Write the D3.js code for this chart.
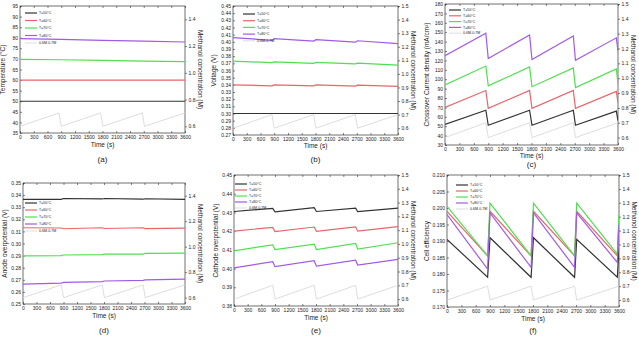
<!DOCTYPE html>
<html><head><meta charset="utf-8">
<script src="https://cdn.jsdelivr.net/npm/d3@7"></script>
<style>
  body { margin: 0; background: #fff; }
  text { font-family: "Liberation Sans", Arial, sans-serif; fill: #222; }
</style>
</head><body>
<svg id="chart" width="639" height="344"></svg>
<script>
// time grids (s)
const tFlat = [0, 900, 1800, 2700, 3600]
const tSaw = [0, 850, 900, 1760, 1810, 2670, 2715, 3600]
const tSawEnd = [0, 850, 900, 1760, 1810, 2670, 2715, 3565, 3600]
const xTicks = d3.range(0, 3601, 300)

// methanol feed concentration (M), right axis
const concM = [0.6, 0.7, 0.6, 0.7, 0.6, 0.7, 0.6, 0.7]

const seriesNames = ["T=50°C", "T=60°C", "T=70°C", "T=80°C", "0.6M-0.7M"]
const colours = ["#333333", "#e8666a", "#4ee04e", "#a259e6", "#d4d4d4"]

// (a) temperature
const tempA = [
  [50, 50, 50, 50, 50],
  [60, 60, 60, 60, 60],
  [69.8, 69.6, 69.3, 69.0, 68.7],
  [79.6, 79.2, 78.8, 78.4, 78.0]
]
// (b) voltage
const voltB = [
  [0.300, 0.300, 0.300, 0.300, 0.300, 0.300, 0.300, 0.300],
  [0.3400, 0.3385, 0.3400, 0.3385, 0.3398, 0.3382, 0.3395, 0.3378],
  [0.3730, 0.3710, 0.3720, 0.3700, 0.3712, 0.3692, 0.3702, 0.3675],
  [0.4060, 0.4020, 0.4045, 0.4010, 0.4030, 0.3995, 0.4015, 0.3975]
]
// (c) crossover current density
const crossC = [
  [52, 67, 51, 67, 51, 67, 51, 66, 56],
  [70, 88, 69, 88, 69, 88, 69, 87, 75],
  [94, 114, 93, 113, 92, 112, 91, 111, 95],
  [125, 149, 122, 147, 121, 146, 120, 144, 130]
]
// (d) anode overpotential
const anodeD = [
  [0.3365, 0.3365, 0.3372, 0.3368, 0.3372, 0.3366, 0.3370, 0.3364],
  [0.3130, 0.3128, 0.3122, 0.3130, 0.3124, 0.3130, 0.3123, 0.3127],
  [0.2898, 0.2900, 0.2905, 0.2908, 0.2912, 0.2913, 0.2918, 0.2920],
  [0.2665, 0.2672, 0.2678, 0.2685, 0.2690, 0.2696, 0.2700, 0.2705]
]
// (e) cathode overpotential
const cathodeE = [
  [0.4305, 0.4322, 0.4303, 0.4325, 0.4305, 0.4323, 0.4304, 0.4323],
  [0.4200, 0.4220, 0.4198, 0.4222, 0.4199, 0.4223, 0.4200, 0.4224],
  [0.4095, 0.4127, 0.4102, 0.4131, 0.4102, 0.4135, 0.4104, 0.4138],
  [0.4004, 0.4037, 0.4010, 0.4042, 0.4013, 0.4045, 0.4019, 0.4049]
]
// (f) cell efficiency
const effF = [
  [0.1905, 0.1790, 0.1910, 0.1790, 0.1910, 0.1790, 0.1905, 0.1790, 0.1880],
  [0.1990, 0.1855, 0.1990, 0.1855, 0.1990, 0.1855, 0.1990, 0.1855, 0.1960],
  [0.2005, 0.1855, 0.2015, 0.1855, 0.2015, 0.1855, 0.2015, 0.1860, 0.1980],
  [0.1980, 0.1815, 0.1985, 0.1820, 0.1985, 0.1820, 0.1985, 0.1835, 0.1950]
]

const svg = d3.select("#chart")

const panels = [
  { tag: "(a)", l: 20, r: 185, t: 6, b: 133, yDom: [35, 95], yTicks: d3.range(35, 96, 5),
    fmt: d3.format("d"), yTitle: "Temperature (°C)", times: tFlat, data: tempA,
    r2Ticks: [0.6, 0.8, 1.0, 1.2, 1.4], legend: [5, 7, 7.5], tagY: 162, xtY: 14, yOff: 15 },
  { tag: "(b)", l: 233, r: 398, t: 6, b: 135, yDom: [0.27, 0.45], yTicks: d3.range(0.27, 0.4501, 0.01),
    fmt: d3.format(".2f"), yTitle: "Voltage (V)", times: tSaw, data: voltB,
    r2Ticks: d3.range(0.6, 1.501, 0.1), legend: [10, 8, 6.7], tagY: 162, xtY: 13, yOff: 17 },
  { tag: "(c)", l: 445, r: 618, t: 4, b: 145, yDom: [30, 180], yTicks: d3.range(30, 181, 10),
    fmt: d3.format("d"), yTitle: "Crossover Current density (mA/cm²)", times: tSawEnd, data: crossC,
    r2Ticks: d3.range(0.6, 1.501, 0.1), legend: [4, 6, 5.8], tagY: 167, xtY: 12.5, yOff: 16 },
  { tag: "(d)", l: 23, r: 185, t: 183, b: 304, yDom: [0.25, 0.35], yTicks: d3.range(0.25, 0.3501, 0.01),
    fmt: d3.format(".2f"), yTitle: "Anode overpotential (V)", times: tSaw, data: anodeD,
    r2Ticks: [0.6, 0.8, 1.0, 1.2, 1.4], legend: [2, 20, 7], tagY: 333, xtY: 14, yOff: 16 },
  { tag: "(e)", l: 234, r: 398, t: 175, b: 306, yDom: [0.38, 0.45], yTicks: d3.range(0.38, 0.4501, 0.01),
    fmt: d3.format(".2f"), yTitle: "Cathode overpotential (V)", times: tSaw, data: cathodeE,
    r2Ticks: d3.range(0.6, 1.501, 0.1), legend: [1, 9, 6], tagY: 333, xtY: 14, yOff: 16 },
  { tag: "(f)", l: 447, r: 619, t: 175, b: 307, yDom: [0.17, 0.21], yTicks: d3.range(0.17, 0.2101, 0.005),
    fmt: d3.format(".3f"), yTitle: "Cell efficiency", times: tSawEnd, data: effF,
    r2Ticks: d3.range(0.6, 1.501, 0.1), legend: [9, 10, 6], tagY: 333, xtY: 14, yOff: 18 }
]

function drawPanel(p) {
  const g = svg.append("g").attr("class", "panel")
  const x = d3.scaleLinear().domain([0, 3600]).range([p.l, p.r])
  const y = d3.scaleLinear().domain(p.yDom).range([p.b, p.t])
  const y2 = d3.scaleLinear().domain([0.55, 1.5]).range([p.b, p.t])

  const style = sel => {
    sel.select(".domain").remove()
    sel.selectAll("line").attr("stroke", "#333").attr("stroke-width", 0.6)
    sel.selectAll("text").attr("font-size", 5).attr("font-family", "Liberation Sans, Arial, sans-serif").attr("fill", "#333")
  }

  g.append("g").attr("transform", `translate(0,${p.b})`)
    .call(d3.axisBottom(x).tickValues(xTicks).tickFormat(d3.format("d")).tickSize(-2).tickPadding(2.5))
    .call(style)
  g.append("g").attr("transform", `translate(0,${p.t})`)
    .call(d3.axisTop(x).tickValues(xTicks).tickSize(-2).tickFormat(""))
    .call(style)
  g.append("g").attr("transform", `translate(${p.l},0)`)
    .call(d3.axisLeft(y).tickValues(p.yTicks).tickFormat(p.fmt).tickSize(-2).tickPadding(2))
    .call(style)
  g.append("g").attr("transform", `translate(${p.r},0)`)
    .call(d3.axisRight(y2).tickValues(p.r2Ticks).tickFormat(d3.format(".1f")).tickSize(2).tickPadding(1.5))
    .call(style)

  g.append("rect")
    .attr("x", p.l).attr("y", p.t)
    .attr("width", p.r - p.l).attr("height", p.b - p.t)
    .attr("fill", "none").attr("stroke", "#333").attr("stroke-width", 0.7)

  const clip = "clip" + p.tag.replace(/\W/g, "")
  g.append("clipPath").attr("id", clip).append("rect")
    .attr("x", p.l).attr("y", p.t).attr("width", p.r - p.l).attr("height", p.b - p.t)
  const plot = g.append("g").attr("clip-path", `url(#${clip})`)

  // methanol concentration on the right axis
  plot.append("path")
    .attr("d", d3.line().x((d, i) => x(tSaw[i])).y(d => y2(d))(concM))
    .attr("fill", "none").attr("stroke", colours[4]).attr("stroke-width", 0.8)

  p.data.forEach((vals, k) => {
    plot.append("path")
      .attr("d", d3.line().x((d, i) => x(p.times[i])).y(d => y(d))(vals))
      .attr("fill", "none").attr("stroke", colours[k]).attr("stroke-width", 1.2)
  })

  // legend
  const [lx, ly, step] = p.legend
  seriesNames.forEach((name, k) => {
    const yy = p.t + ly + k * step
    g.append("line")
      .attr("x1", p.l + lx).attr("x2", p.l + lx + 12)
      .attr("y1", yy).attr("y2", yy)
      .attr("stroke", colours[k]).attr("stroke-width", k === 4 ? 0.8 : 1.2)
    g.append("text")
      .attr("x", p.l + lx + 14).attr("y", yy + 1.2)
      .attr("font-size", 3.6).text(name)
  })

  // titles
  g.append("text")
    .attr("x", (p.l + p.r) / 2).attr("y", p.b + p.xtY)
    .attr("text-anchor", "middle").attr("font-size", 6.5).text("Time (s)")
  g.append("text")
    .attr("transform", `translate(${p.l - p.yOff},${(p.t + p.b) / 2}) rotate(-90)`)
    .attr("text-anchor", "middle").attr("font-size", 6.5).text(p.yTitle)
  g.append("text")
    .attr("transform", `translate(${p.r + 13},${(p.t + p.b) / 2}) rotate(90)`)
    .attr("text-anchor", "middle").attr("font-size", 6.5).text("Methanol concentration (M)")
  g.append("text")
    .attr("x", (p.l + p.r) / 2).attr("y", p.tagY)
    .attr("text-anchor", "middle").attr("font-size", 8).text(p.tag)
}

panels.forEach(drawPanel)
</script>
</body></html>
